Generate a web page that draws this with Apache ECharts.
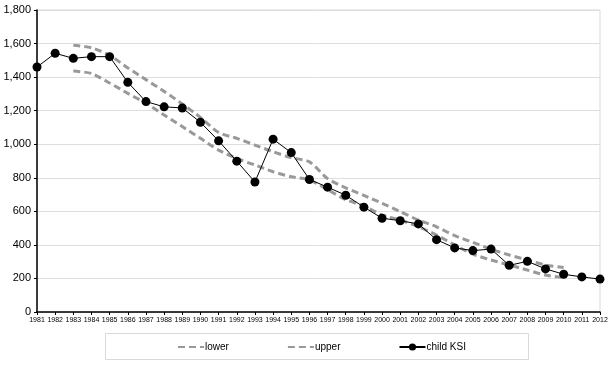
<!DOCTYPE html>
<html>
<head>
<meta charset="utf-8">
<script src="https://cdn.jsdelivr.net/npm/echarts@6/dist/echarts.min.js"></script>
<style>
html,body{margin:0;padding:0;background:#fff;}
#chart{width:611px;height:366px;}
</style>
</head>
<body>
<div id="chart"></div>
<script>
var years = ['1981','1982','1983','1984','1985','1986','1987','1988','1989','1990','1991','1992','1993','1994','1995','1996','1997','1998','1999','2000','2001','2002','2003','2004','2005','2006','2007','2008','2009','2010','2011','2012'];
var lower = [null,null,1436,1422,1365,1303,1244,1174,1105,1035,965,915,876,836,806,787,729,670,632,578,548,508,459,399,345,310,280,250,220,205,null,null];
var upper = [null,null,1590,1575,1530,1455,1385,1315,1240,1160,1070,1035,995,955,920,895,795,740,695,648,598,548,508,455,415,374,340,310,280,265,null,null];
var childKSI = [1460,1542,1512,1522,1522,1369,1254,1223,1216,1131,1020,899,775,1030,950,790,744,696,625,559,544,525,431,382,366,375,278,302,257,225,209,196];
var yTicks = {min:0, max:1800, interval:200};

var chart = echarts.init(document.getElementById('chart'), null, {renderer:'canvas'});
var dash = [7,4];
chart.setOption({
  animation:false,
  backgroundColor:'#fff',
  textStyle:{fontFamily:'Liberation Sans, Arial, sans-serif'},
  grid:{left:37,right:11,top:10,bottom:54,show:true,borderColor:'#d9d9d9',borderWidth:1},
  graphic:[{type:'rect',shape:{x:105.5,y:333.5,width:423,height:26},style:{fill:'none',stroke:'#d9d9d9',lineWidth:1},silent:true}],
  legend:{
    left:172, top:337, itemGap:58, itemWidth:26, itemHeight:9,
    textStyle:{fontSize:10,color:'#000',padding:[0,0,0,-4]},
    data:[
      {name:'lower',itemStyle:{opacity:0}},
      {name:'upper',itemStyle:{opacity:0}},
      {name:'child KSI'}
    ]
  },
  xAxis:{
    type:'category', data:years, boundaryGap:false,
    axisLine:{lineStyle:{color:'#000',width:1.5}},
    axisTick:{show:true,length:3,lineStyle:{color:'#000'}},
    axisLabel:{interval:0,fontSize:7,color:'#000',margin:5,fontFamily:'Liberation Sans, Arial, sans-serif'},
    splitLine:{show:false}
  },
  yAxis:{
    type:'value', min:yTicks.min, max:yTicks.max, interval:yTicks.interval,
    axisLine:{show:true,lineStyle:{color:'#000',width:1.5}},
    axisTick:{show:true,length:3,lineStyle:{color:'#000'}},
    axisLabel:{fontSize:11,color:'#000',margin:6,formatter:function(v){return v.toLocaleString('en-US');}},
    splitLine:{lineStyle:{color:'#dedede',width:1}}
  },
  series:[
    {name:'lower',type:'line',data:lower,smooth:0.25,symbol:'none',connectNulls:false,
     lineStyle:{color:'#999999',width:3,type:dash},itemStyle:{color:'#999999'},z:2},
    {name:'upper',type:'line',data:upper,smooth:0.25,symbol:'none',connectNulls:false,
     lineStyle:{color:'#999999',width:3,type:dash},itemStyle:{color:'#999999'},z:2},
    {name:'child KSI',type:'line',data:childKSI,symbol:'circle',symbolSize:9,showSymbol:true,
     lineStyle:{color:'#000',width:1},itemStyle:{color:'#000'},z:3}
  ]
});
</script>
</body>
</html>
